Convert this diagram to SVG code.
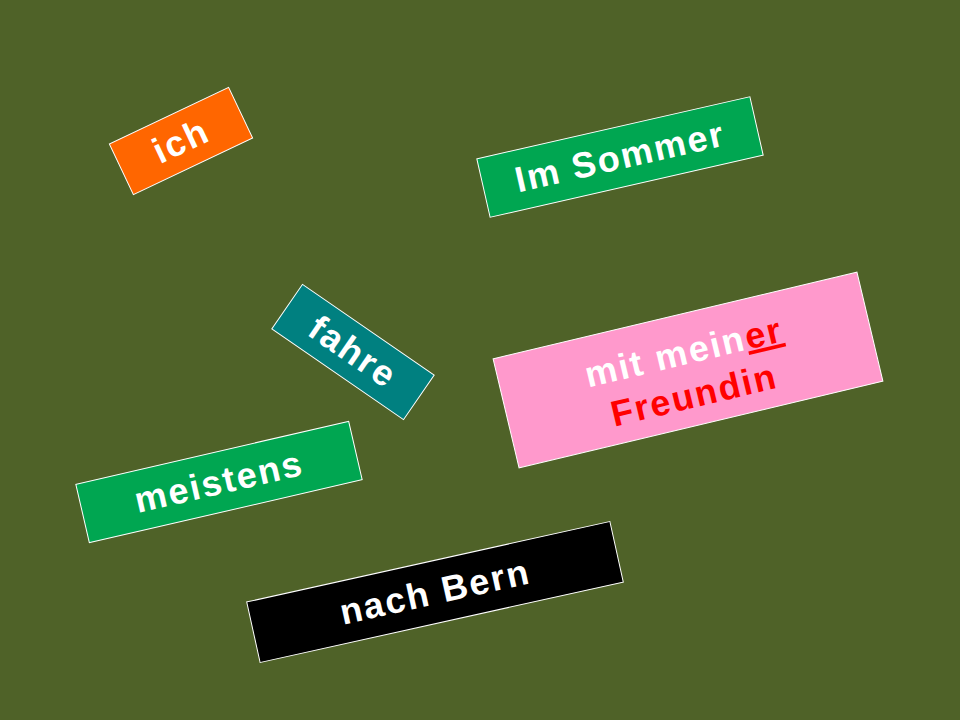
<svg xmlns="http://www.w3.org/2000/svg" width="960" height="720" viewBox="0 0 960 720">
<style>
.b{stroke:#fff;stroke-width:1}
.t{font-family:"Liberation Sans",Arial,sans-serif;font-weight:bold;font-size:36px;fill:#fff;text-anchor:middle;letter-spacing:2px}
</style>
<rect width="960" height="720" fill="#4F6228"/>
<g id="ich" transform="translate(181,141) rotate(-25.4)">
<rect class="b" x="-66" y="-28" width="132" height="56" fill="#FF6600"/>
<text class="t" x="0" y="12">ich</text></g>
<g id="sommer" transform="translate(620,157) rotate(-12.8)">
<rect class="b" x="-140" y="-30" width="280" height="60" fill="#00A651"/>
<text class="t" x="0" y="12">Im Sommer</text></g>
<g id="fahre" transform="translate(353,352) rotate(34.6)">
<rect class="b" x="-80" y="-27" width="160" height="54" fill="#008080"/>
<text class="t" x="0" y="12">fahre</text></g>
<g id="freundin" transform="translate(688,370) rotate(-13.4)">
<rect class="b" x="-187" y="-56" width="374" height="112" fill="#FF99CC"/>
<text class="t" x="0" y="-6">mit mein<tspan fill="#FF0000" text-decoration="underline">er</tspan></text>
<text class="t" x="0" y="38" fill="#FF0000" style="fill:#FF0000">Freundin</text></g>
<g id="meistens" transform="translate(219,482) rotate(-13)">
<rect class="b" x="-140" y="-30" width="280" height="60" fill="#00A651"/>
<text class="t" x="0" y="12">meistens</text></g>
<g id="bern" transform="translate(435,592) rotate(-12.5)">
<rect class="b" x="-186" y="-31" width="372" height="62" fill="#000"/>
<text class="t" x="0" y="12">nach Bern</text></g>
<g id="connectors"/>
</svg>
